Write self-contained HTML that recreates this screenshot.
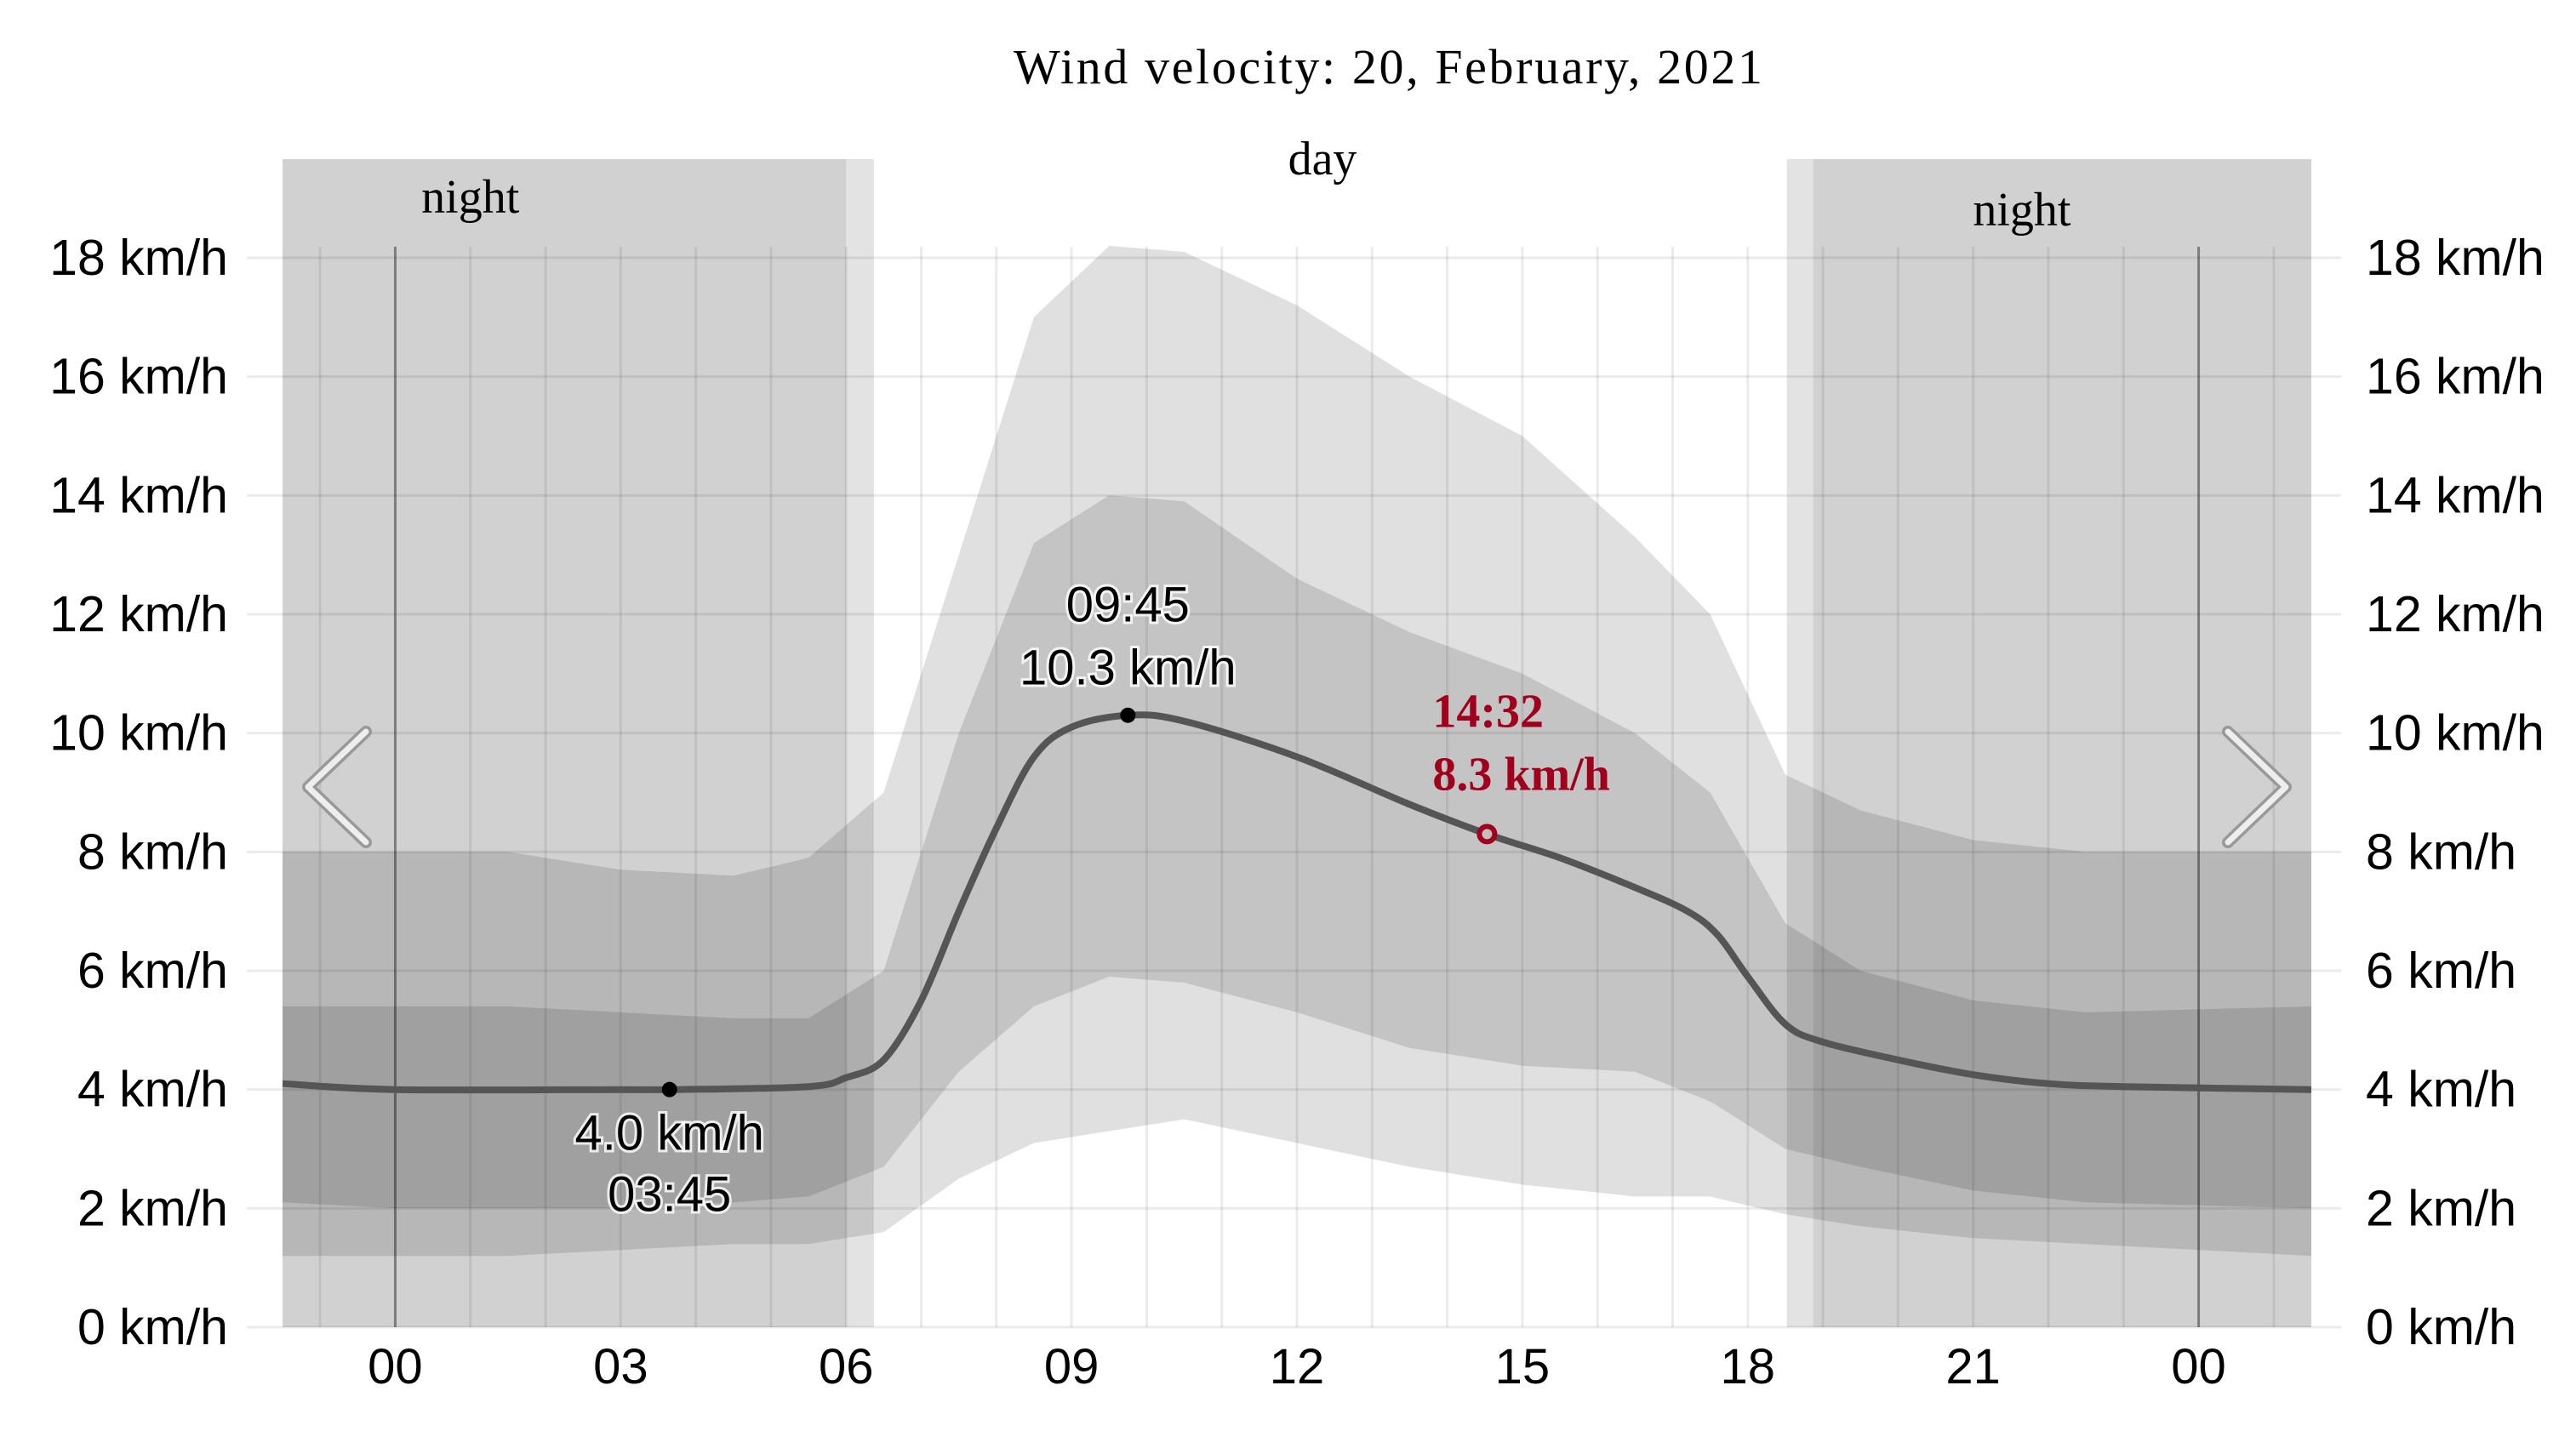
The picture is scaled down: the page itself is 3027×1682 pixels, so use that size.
<!DOCTYPE html>
<html><head><meta charset="utf-8"><style>html,body{margin:0;padding:0;background:#fff}svg{display:block}</style></head>
<body>
<svg id="chart" width="3027" height="1682" viewBox="0 0 3027 1682" xmlns="http://www.w3.org/2000/svg">
<text x="1631" y="98" text-anchor="middle" font-family="Liberation Serif, serif" font-size="58" textLength="880" fill="#000">Wind velocity: 20, February, 2021</text>
<g id="bg"></g><g id="grid"></g><g id="bands"></g><g id="lines"></g><g id="labels"></g>
</svg>
<script>
const bandHours=[-1.5,0,1.5,3,4.5,5.5,6.5,7.5,8.5,9.5,10.5,12,13.5,15,16.5,17.5,18.5,19.5,21,22.5,25.5];
const outerUpper=[8.0,8.0,8.0,7.7,7.6,7.9,9.0,13.0,17.0,18.2,18.1,17.2,16.0,15.0,13.3,12.0,9.3,8.7,8.2,8.0,8.0];
const innerUpper=[5.4,5.4,5.4,5.3,5.2,5.2,6.0,10.0,13.2,14.0,13.9,12.6,11.7,11.0,10.0,9.0,6.8,6.0,5.5,5.3,5.4];
const innerLower=[2.1,2.0,2.0,2.0,2.1,2.2,2.7,4.3,5.4,5.9,5.8,5.3,4.7,4.4,4.3,3.8,3.0,2.7,2.3,2.1,2.0];
const outerLower=[1.2,1.2,1.2,1.3,1.4,1.4,1.6,2.5,3.1,3.3,3.5,3.1,2.7,2.4,2.2,2.2,1.9,1.7,1.5,1.4,1.2];
const lineHours=[-1.5,0,3,3.75,5.5,6,6.5,7,7.5,8,8.5,9,9.75,10.5,12,13.5,14.53,15.5,16.5,17.2,17.6,18,18.5,19,20,21,22,23,25.5];
const lineValues=[4.1,4.0,4.0,4.0,4.05,4.2,4.5,5.5,7.0,8.4,9.6,10.1,10.3,10.2,9.6,8.8,8.3,7.9,7.4,7.0,6.6,5.9,5.1,4.8,4.5,4.25,4.1,4.05,4.0];
const yTicks=[0,2,4,6,8,10,12,14,16,18];
const yTickLabels=["0 km/h","2 km/h","4 km/h","6 km/h","8 km/h","10 km/h","12 km/h","14 km/h","16 km/h","18 km/h"];
const xTicks=[0,3,6,9,12,15,18,21,24];
const xTickLabels=["00","03","06","09","12","15","18","21","00"];
const nightRanges=[[-1.5,6.0],[18.87,25.5]];
const twilightRanges=[[6.0,6.37],[18.52,18.87]];
const markers=[{h:3.65,v:4.0,t1:"4.0 km/h",t2:"03:45",below:true,red:false},{h:9.75,v:10.3,t1:"09:45",t2:"10.3 km/h",below:false,red:false},{h:14.53,v:8.3,t1:"14:32",t2:"8.3 km/h",below:false,red:true}];

const X0=332,X1=2716,H0=-1.5,H1=25.5,Y0=1560,Y1=303;
const x=h=>X0+(h-H0)/(H1-H0)*(X1-X0);
const y=v=>Y0-(v/18)*(Y0-Y1);
const NS="http://www.w3.org/2000/svg";
function mk(tag,attrs,parent,text){const e=document.createElementNS(NS,tag);for(const k in attrs)e.setAttribute(k,attrs[k]);if(text!==undefined)e.textContent=text;document.getElementById(parent).appendChild(e);return e;}

nightRanges.forEach((r,i)=>{const e=mk('rect',{x:x(r[0]),y:187,width:x(r[1])-x(r[0]),height:Y0-187,fill:'rgba(0,0,0,0.18)'},'bg');

});
twilightRanges.forEach(r=>{const e=mk('rect',{x:x(r[0]),y:187,width:x(r[1])-x(r[0]),height:Y0-187,fill:'rgba(0,0,0,0.11)'},'bg');

});

yTicks.forEach((v,i)=>{const g=mk('line',{x1:290,x2:2751,y1:y(v),y2:y(v),stroke:'rgba(0,0,0,0.08)','stroke-width':3},'grid');


const l=mk('text',{x:268,y:y(v)+20,'text-anchor':'end','font-family':'Liberation Sans, sans-serif','font-size':59,fill:'#000'},'labels',yTickLabels[i]);


const r=mk('text',{x:2780,y:y(v)+20,'text-anchor':'start','font-family':'Liberation Sans, sans-serif','font-size':59,fill:'#000'},'labels',yTickLabels[i]);

});
for(let h=-1;h<=25;h++){const major=(h===0||h===24);const g=mk('line',{x1:x(h),x2:x(h),y1:290,y2:Y0,stroke:major?'rgba(0,0,0,0.4)':'rgba(0,0,0,0.08)','stroke-width':3},'grid');

}
xTicks.forEach((h,i)=>{const t=mk('text',{x:x(h),y:1626,'text-anchor':'middle','font-family':'Liberation Sans, sans-serif','font-size':58,fill:'#000'},'labels',xTickLabels[i]);

});

function band(up,lo,name){let d='M';bandHours.forEach((h,i)=>{d+=(i?' L':'')+x(h).toFixed(1)+','+y(up[i]).toFixed(1);});
for(let i=bandHours.length-1;i>=0;i--)d+=' L'+x(bandHours[i]).toFixed(1)+','+y(lo[i]).toFixed(1);d+='Z';
const p=mk('path',{d:d,fill:'rgba(0,0,0,0.12)'},'bands');

}
band(outerUpper,outerLower,'outer-range-band');
band(innerUpper,innerLower,'inner-range-band');

const pts=lineHours.map((h,i)=>[x(h),y(lineValues[i])]);
let d='M'+pts[0][0]+','+pts[0][1];
for(let i=0;i<pts.length-1;i++){const p0=pts[Math.max(0,i-1)],p1=pts[i],p2=pts[i+1],p3=pts[Math.min(pts.length-1,i+2)];
const c1=[p1[0]+(p2[0]-p0[0])/6,p1[1]+(p2[1]-p0[1])/6],c2=[p2[0]-(p3[0]-p1[0])/6,p2[1]-(p3[1]-p1[1])/6];
d+=' C'+c1[0].toFixed(1)+','+c1[1].toFixed(1)+' '+c2[0].toFixed(1)+','+c2[1].toFixed(1)+' '+p2[0].toFixed(1)+','+p2[1].toFixed(1);}
const ln=mk('path',{d:d,fill:'none',stroke:'#555','stroke-width':8},'lines');



markers.forEach(m=>{const cx=x(m.h),cy=y(m.v);
const c=mk('circle',{cx:cx,cy:cy,r:m.red?9:9,fill:m.red?'#c0c0c0':'#000',stroke:m.red?'#a0001c':'none','stroke-width':6},'lines');


const style=m.red?{'font-family':'Liberation Serif, serif','font-weight':'bold','font-size':56,fill:'#a0001c','text-anchor':'start'}:{'font-family':'Liberation Sans, sans-serif','font-size':58,fill:'#000',stroke:'#fff','stroke-width':6,'paint-order':'stroke','stroke-opacity':0.8,'text-anchor':'middle'};
const ys=m.below?[cy+71,cy+143]:(m.red?[cy-126,cy-52]:[cy-110,cy-36]);
const ax=m.red?cx-64:cx;
[m.t1,m.t2].forEach((t,k)=>{const a=Object.assign({x:ax,y:ys[k]},style);
const e=mk('text',a,'labels',t);

});});

[[x(1.0),250,'night'],[x(19.7)+172,265,'night'],[1554,205,'day']].forEach(a=>{const e=mk('text',{x:a[0],y:a[1],'text-anchor':'middle','font-family':'Liberation Serif, serif','font-size':56,fill:'#000'},'labels',a[2]);

});

const la=mk('path',{d:'M430,860 L362,925 L430,990',fill:'none',stroke:'#999','stroke-width':14,'stroke-linejoin':'round','stroke-linecap':'round'},'labels');


const la2=mk('path',{d:'M430,860 L362,925 L430,990',fill:'none',stroke:'#eee','stroke-width':7,'stroke-linejoin':'round','stroke-linecap':'round'},'labels');


const ra=mk('path',{d:'M2618,860 L2686,925 L2618,990',fill:'none',stroke:'#999','stroke-width':14,'stroke-linejoin':'round','stroke-linecap':'round'},'labels');


const ra2=mk('path',{d:'M2618,860 L2686,925 L2618,990',fill:'none',stroke:'#eee','stroke-width':7,'stroke-linejoin':'round','stroke-linecap':'round'},'labels');


</script>
</body></html>
